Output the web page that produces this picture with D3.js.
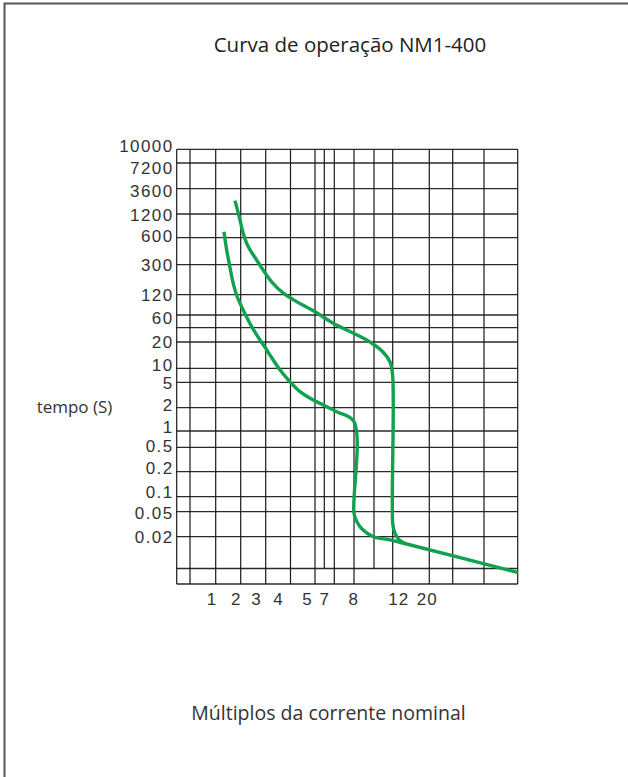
<!DOCTYPE html>
<html>
<head>
<meta charset="utf-8">
<script src="https://cdn.jsdelivr.net/npm/d3@7"></script>
<style>
  body { margin: 0; background: #fff; }
  text { font-family: 'Liberation Sans', Arial, sans-serif; }
</style>
</head>
<body>
<svg width="628" height="777"></svg>
<script>
// Row labels (one per horizontal grid line, top to bottom; '' = unlabeled line)
var rowLabels = ['10000', '7200', '3600', '1200', '600', '300', '120', '60', '', '20',
                 '10', '5', '2', '1', '0.5', '0.2', '0.1', '0.05', '0.02', '', ''];
// where each row label sits, in grid-row units (they drift a little off the lines)
var rowLabelAt = [-0.24, 1.18, 2.09, 3.04, 3.93, 5.01, 6.01, 7.26, 8, 8.98,
                  9.87, 11.04, 11.89, 12.83, 13.92, 14.85, 15.81, 17.05, 18.0, 19, 20];
// X tick labels and where they sit, in grid-column units
var xLabels = ['1', '2', '3', '4', '5', '7', '8', '12', '20'];
var xLabelCols = [1.84, 2.8, 3.61, 4.5, 5.67, 7.0, 8.96, 11.15, 11.93];
// Columns whose line stops at the last inner row
var shortCols = [7, 10];

// Curves, as [column, row] in grid units
var curveLow = [[2.33, 3.75], [2.44, 4.46], [2.54, 4.95], [2.70, 5.62], [2.86, 6.10], [3.10, 6.75],
                [3.44, 7.92], [3.77, 8.86], [4.0, 9.24], [4.25, 9.61], [4.58, 10.12], [4.98, 10.96],
                [5.39, 11.37], [5.93, 11.70], [6.89, 11.89], [8.12, 12.17], [9.0, 12.6],
                [9.0, 17.06], [9.15, 17.41], [9.4, 17.69], [9.97, 18.0], [10.86, 18.1],
                [11.38, 18.23], [15.0, 19.25]];
var curveHigh = [[2.77, 2.47], [2.94, 3.11], [3.10, 3.81], [3.30, 4.33], [3.64, 4.83], [3.90, 5.18],
                 [4.24, 5.57], [4.71, 5.95], [5.25, 6.34], [6.0, 6.84], [7.9, 7.65], [8.95, 8.37],
                 [9.8, 9.0], [10.48, 9.38], [10.86, 9.76], [11.0, 10.6], [11.0, 17.46],
                 [11.04, 17.77], [11.11, 18.0], [11.2, 18.12], [11.38, 18.23]];

// Layout of the (irregular) grid lines
var colPx = [176.7, 190, 215.7, 240.7, 265.7, 290.5, 315, 324.3, 334.3, 354, 374, 392.7,
             429.3, 452.7, 484, 517.7];
var rowPx = [149.3, 163, 188.7, 214, 237.7, 264.7, 294.7, 315, 327.7, 342, 368.3, 382.3,
             407.7, 431, 447.3, 471.7, 496.7, 511.7, 536.7, 568.5, 584];

var svg = d3.select('svg');

var x = d3.scaleLinear().domain(d3.range(colPx.length)).range(colPx);
var y = d3.scaleLinear().domain(d3.range(rowPx.length)).range(rowPx);
var lastRow = rowPx.length - 1;

// frame (top and left edges only)
svg.append('path')
    .attr('d', 'M4.5,777 V3.5 H628')
    .attr('fill', 'none')
    .attr('stroke', '#555')
    .attr('stroke-width', 2);

svg.append('text')
    .attr('x', 350).attr('y', 52)
    .attr('text-anchor', 'middle')
    .style('font-family', "'Open Sans', 'Noto Sans', sans-serif")
    .style('font-size', '20.5px')
    .attr('fill', '#222')
    .text('Curva de operação NM1-400');

var gridG = svg.append('g');

// horizontal lines
gridG.selectAll('.hline')
    .data(d3.range(rowPx.length))
    .enter().append('line')
    .attr('class', 'hline')
    .attr('x1', x(0)).attr('x2', x(colPx.length - 1))
    .attr('y1', function(d) { return y(d); })
    .attr('y2', function(d) { return y(d); })
    .attr('stroke', '#2a2a2a')
    .attr('stroke-width', 1.3);

// vertical lines
gridG.selectAll('.vline')
    .data(d3.range(colPx.length))
    .enter().append('line')
    .attr('class', 'vline')
    .attr('x1', function(d) { return x(d); })
    .attr('x2', function(d) { return x(d); })
    .attr('y1', y(0))
    .attr('y2', function(d) { return shortCols.indexOf(d) >= 0 ? y(lastRow - 1) : y(lastRow); })
    .attr('stroke', '#1a1a1a')
    .attr('stroke-width', 1.2);

// y labels
svg.selectAll('.ylab')
    .data(rowLabels)
    .enter().append('text')
    .attr('class', 'ylab')
    .attr('x', 173.5)
    .attr('y', function(d, i) { return y(rowLabelAt[i]) + 6; })
    .attr('text-anchor', 'end')
    .style('font-size', '17px')
    .style('letter-spacing', '1.4px')
    .attr('fill', '#333')
    .text(function(d) { return d; });

// x labels
svg.selectAll('.xlab')
    .data(xLabels)
    .enter().append('text')
    .attr('class', 'xlab')
    .attr('x', function(d, i) { return x(xLabelCols[i]) + 0.6; })
    .attr('y', 605)
    .attr('text-anchor', 'middle')
    .style('font-size', '17px')
    .style('letter-spacing', '1.2px')
    .attr('fill', '#333')
    .text(function(d) { return d; });

// curves
var line = d3.line()
    .x(function(d) { return x(d[0]); })
    .y(function(d) { return y(d[1]); })
    .curve(d3.curveCatmullRom.alpha(0.5));

svg.selectAll('.curve')
    .data([curveLow, curveHigh])
    .enter().append('path')
    .attr('class', 'curve')
    .attr('d', line)
    .attr('fill', 'none')
    .attr('stroke', '#12a150')
    .attr('stroke-width', 3.4)
    .attr('stroke-linejoin', 'round');

svg.append('text')
    .attr('x', 74.5).attr('y', 413)
    .attr('text-anchor', 'middle')
    .style('font-family', "'Open Sans', 'Noto Sans', sans-serif")
    .style('font-size', '17px')
    .attr('fill', '#333')
    .text('tempo (S)');

svg.append('text')
    .attr('x', 328.5).attr('y', 720)
    .attr('text-anchor', 'middle')
    .style('font-family', "'Open Sans', 'Noto Sans', sans-serif")
    .style('font-size', '19.5px')
    .attr('fill', '#333')
    .text('Múltiplos da corrente nominal');
</script>
</body>
</html>
